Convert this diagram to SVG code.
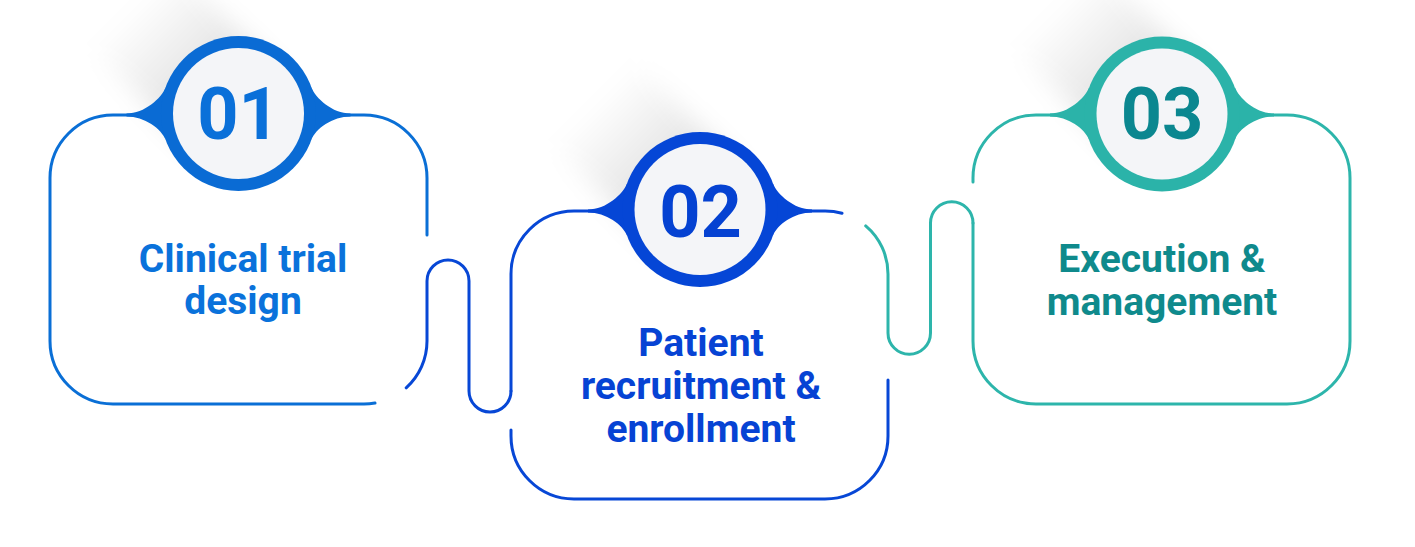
<svg xmlns="http://www.w3.org/2000/svg" width="1415" height="547" viewBox="0 0 1415 547">
<defs>
<style>
.ol{fill:none;stroke-width:3;stroke-linecap:round;stroke-linejoin:round}
.b1{stroke:#0a6fd6}
.b2{stroke:#0747d6}
.b3{stroke:#2db5ab}
.inner{fill:#f4f5f8}
.num{font-family:Roboto,"Liberation Sans",Arial,sans-serif;font-weight:700;font-size:72px;text-anchor:middle}
.lbl{font-family:Roboto,"Liberation Sans",Arial,sans-serif;font-weight:700;font-size:39px;text-anchor:middle}
</style>
<path id="flare" d="M 112,-1.5 C 94,-1.5 77,-16.7 72.8,-28 L 72.8,25 C 77,13.7 94,1.5 112,1.5 Z M -112,-1.5 C -94,-1.5 -77,-16.7 -72.8,-28 L -72.8,25 C -77,13.7 -94,1.5 -112,1.5 Z"/>
<linearGradient id="shg" x1="1" y1="0" x2="0" y2="0">
<stop offset="0" stop-color="#000" stop-opacity="0.16"/>
<stop offset="1" stop-color="#000" stop-opacity="0"/>
</linearGradient>
<filter id="blur" x="-50%" y="-50%" width="200%" height="200%"><feGaussianBlur stdDeviation="12"/></filter>
<rect id="shadow" x="-150" y="-58" width="150" height="116" fill="url(#shg)" filter="url(#blur)"/>
</defs>
<rect width="1415" height="547" fill="#ffffff"/>

<g id="node-1">
<use href="#shadow" transform="translate(238.5,113.5) rotate(45)"/>
<path class="ol b1" d="M 427,235 L 427,178 A 63 63 0 0 0 364,115 L 113,115 A 63 63 0 0 0 50,178 L 50,341 A 63 63 0 0 0 113,404 L 364,404 A 63 63 0 0 0 375,403"/>
<g transform="translate(238.5,115)" fill="#0a6bd4">
<use href="#flare"/>
<circle cx="0" cy="-1.5" r="77.5"/>
<circle class="inner" cx="0" cy="-1.5" r="65.5"/>
</g>
<text class="num" x="238.5" y="139" fill="#0a70d9">01</text>
<text class="lbl" fill="#0a72db"><tspan x="243" y="272">Clinical trial</tspan><tspan x="243" y="314">design</tspan></text>
</g>

<g id="node-2">
<use href="#shadow" transform="translate(700,209.5) rotate(45)"/>
<path class="ol b2" d="M 511,391 L 511,274 A 63 63 0 0 1 574,211 L 825,211 A 63 63 0 0 1 842,213.3"/>
<path class="ol b2" d="M 888,380 L 888,436 A 63 63 0 0 1 825,499 L 574,499 A 63 63 0 0 1 511,436 L 511,430"/>
<g transform="translate(700,211)" fill="#0546d6">
<use href="#flare"/>
<circle cx="0" cy="-1.5" r="77.5"/>
<circle class="inner" cx="0" cy="-1.5" r="65.5"/>
</g>
<text class="num" x="700.5" y="237" fill="#0542d2">02</text>
<text class="lbl" fill="#0643d4"><tspan x="701" y="356">Patient</tspan><tspan x="701" y="399">recruitment &amp;</tspan><tspan x="701" y="442">enrollment</tspan></text>
</g>

<g id="node-3">
<use href="#shadow" transform="translate(1162,114) rotate(45)"/>
<path class="ol b3" d="M 973,223 L 973,341 A 63 63 0 0 0 1036,404 L 1287,404 A 63 63 0 0 0 1350,341 L 1350,178 A 63 63 0 0 0 1287,115 L 1036,115 A 63 63 0 0 0 973,178 L 973,182"/>
<g transform="translate(1162,115)" fill="#2bb3a9">
<use href="#flare"/>
<circle cx="0" cy="-1" r="77.5"/>
<circle class="inner" cx="0" cy="-1" r="65.5"/>
</g>
<text class="num" x="1162" y="139" fill="#0b8790">03</text>
<text class="lbl" fill="#0f8a8c"><tspan x="1162" y="272">Execution &amp;</tspan><tspan x="1162" y="315">management</tspan></text>
</g>

<g id="connectors">
<path class="ol b2" d="M 406.2,387.8 A 63 63 0 0 0 427,341 L 427,281 A 21 21 0 0 1 469,281 L 469,391 A 21 21 0 0 0 511,391"/>
<path class="ol b3" d="M 865.7,225.9 A 63 63 0 0 1 888,274 L 888,333 A 21.25 21.25 0 0 0 930.5,333 L 930.5,223 A 21.25 21.25 0 0 1 973,223"/>
</g>
</svg>
